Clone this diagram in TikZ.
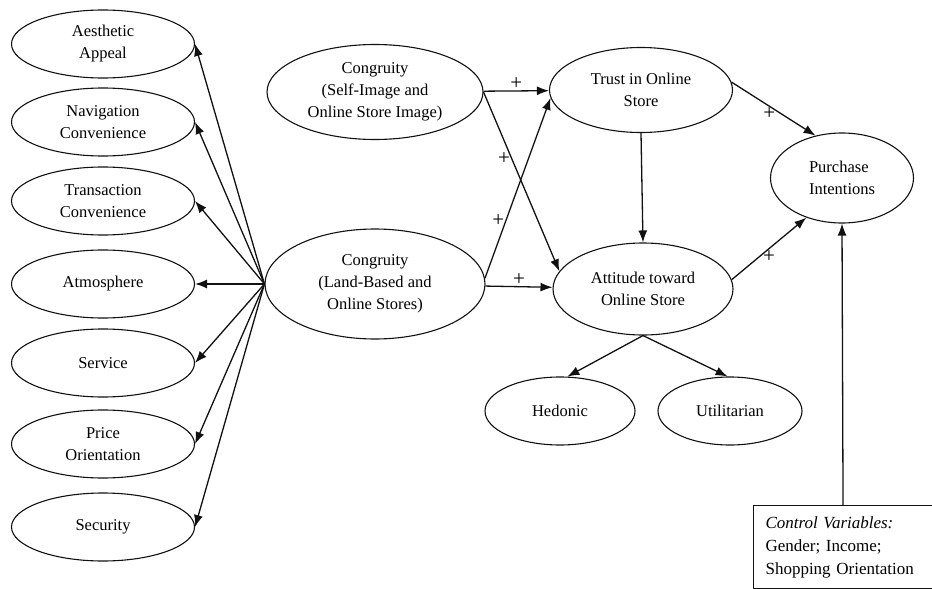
\documentclass[tikz,border=0pt]{standalone}
\usepackage{fontspec}
\setmainfont{Liberation Serif}
\usepackage{xcolor}
\definecolor{ink}{HTML}{111111}
\usepackage{tikz}
\usetikzlibrary{arrows.meta,positioning,shapes.geometric}
\tikzset{
    construct/.style={ellipse, draw=ink, line width=1.1pt, inner sep=0pt, align=center, font=\fontsize{16.5}{22}\selectfont},
    arr/.style={-{Latex[length=12pt,width=9pt]}, line width=1.3pt, draw=ink},
    plus/.style={font=\fontsize{21}{21}\selectfont, inner sep=1pt},
    ctrl_box/.style={draw=ink, line width=1.1pt, align=left, anchor=north west, font=\fontsize{17}{23}\selectfont, text width=155pt, minimum height=83pt, inner xsep=12pt}
}

\begin{document}
\begin{tikzpicture}[
    x=1pt, y=-1pt,
    side/.style={construct, minimum width=183pt, minimum height=68pt}
]
  \useasboundingbox (0,0) rectangle (932,589);

  % Website attributes (left column)
  \node[side] (aesthetic) at (103,44) {Aesthetic\\Appeal};
  \node[side] (navigation) at (103,122) {Navigation\\Convenience};
  \node[side] (transaction) at (103,201) {Transaction\\Convenience};
  \node[side] (atmosphere) at (103,284) {Atmosphere};
  \node[side] (service) at (103,363) {Service};
  \node[side] (price) at (103,444) {Price\\Orientation};
  \node[side] (security) at (103,527) {Security};

  % Congruity constructs
  \node[construct, minimum width=216pt, minimum height=95pt] (self_img) at (375,92) {Congruity\\(Self-Image and\\Online Store Image)};
  \node[construct, minimum width=220pt, minimum height=110pt] (land_online) at (375,284) {Congruity\\(Land-Based and\\Online Stores)};

  % Trust, attitude and outcome
  \node[construct, minimum width=183pt, minimum height=85pt] (trust) at (641,90) {Trust in Online\\Store};
  \node[construct, minimum width=180pt, minimum height=92pt] (attitude) at (643,289) {Attitude toward\\Online Store};
  \node[construct, minimum width=143pt, minimum height=90pt, align=left] (purchase) at (842,178) {Purchase\\Intentions};

  % Attitude dimensions
  \node[construct, minimum width=150pt, minimum height=68pt] (hedonic) at (560,411) {Hedonic};
  \node[construct, minimum width=144pt, minimum height=68pt] (utilitarian) at (730,411) {Utilitarian};

  % Control variables
  \node[ctrl_box] (ctrl) at (753,505) {\textit{Control Variables:}\\Gender; Income;\\Shopping Orientation};

  % Land-based congruity to attributes
  \draw[arr] (land_online.west) -- (aesthetic.east);
  \draw[arr] (land_online.west) -- (navigation.east);
  \draw[arr] (land_online.west) -- (transaction.east);
  \draw[arr] (land_online.west) -- (atmosphere.east);
  \draw[arr] (land_online.west) -- (service.east);
  \draw[arr] (land_online.west) -- (price.east);
  \draw[arr] (land_online.west) -- (security.east);

  % Congruity paths
  \draw[arr] (self_img) -- node[plus, above] {+} (trust);
  \draw[arr] (self_img.east) -- node[plus, left, pos=0.37] {+} (attitude.168);
  \draw[arr] (land_online.3) -- node[plus, left, pos=0.32] {+} (trust.185);
  \draw[arr] (land_online) -- node[plus, above] {+} (attitude);

  % Trust, attitude, intentions
  \draw[arr] (trust.south) -- (attitude.north);
  \draw[arr] (trust.5) -- node[plus, below, pos=0.45] {+} (purchase.122);
  \draw[arr] (attitude.6) -- node[plus, below, pos=0.5] {+} (purchase.228);
  \draw[arr] (attitude.south) -- (hedonic.78);
  \draw[arr] (attitude.south) -- (utilitarian.94);
  \draw[arr] (ctrl.north) -- (purchase.south);

\end{tikzpicture}
\end{document}
